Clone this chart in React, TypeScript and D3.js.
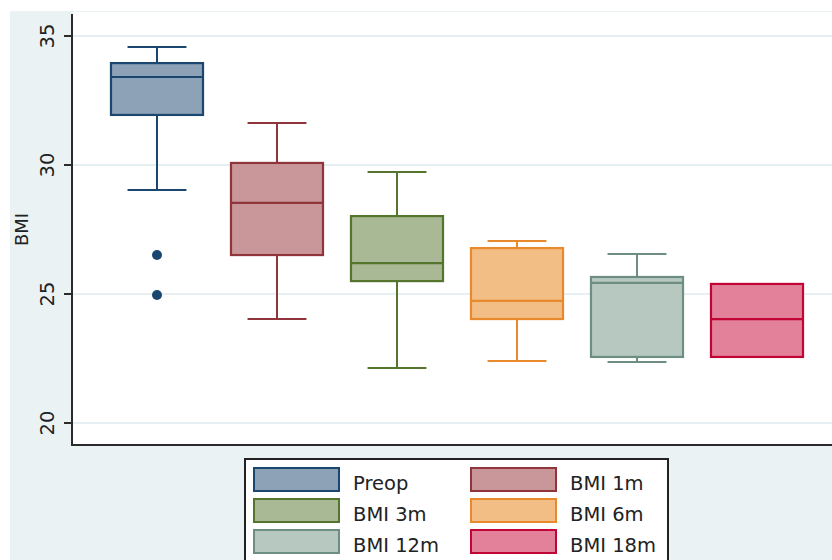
import { useEffect, useRef } from "react";
import * as d3 from "d3";

const groups = ["Preop", "BMI 1m", "BMI 3m", "BMI 6m", "BMI 12m", "BMI 18m"];
const lowWhisker = [29.03, 24.03, 22.13, 22.4, 22.36, 22.56];
const q1 = [31.94, 26.51, 25.5, 24.03, 22.56, 22.56];
const median = [33.41, 28.53, 26.2, 24.73, 25.43, 24.03];
const q3 = [33.95, 30.08, 28.02, 26.78, 25.66, 25.39];
const highWhisker = [34.57, 31.63, 29.73, 27.05, 26.55, 25.39];
const outliers = [
  { group: "Preop", value: 26.51 },
  { group: "Preop", value: 24.96 },
];
const yTicks = [20, 25, 30, 35];

const strokeColors = ["#1a476f", "#90353b", "#55752f", "#e8892c", "#6e8e84", "#c10534"];
const fillColors = ["#8da1b7", "#c9969a", "#a9b996", "#f3bd86", "#b7c8c1", "#e3819a"];

const App = () => {
  const svgRef = useRef<SVGSVGElement>(null);

  useEffect(() => {
    document.body.style.margin = "0";
    const svgEl = svgRef.current;
    if (!svgEl) return;
    const svg = d3.select(svgEl);
    svg.selectAll("*").remove();

    const font = "DejaVu Sans, sans-serif";
    const plot = { left: 73, top: 12, right: 832, bottom: 445 };

    const y = d3.scaleLinear().domain([20, 35]).range([423, 36]);
    const x = d3
      .scaleBand<string>()
      .domain(groups)
      .range([97, 817])
      .paddingInner(0.233)
      .paddingOuter(0.1165);

    // backgrounds
    svg.append("rect").attr("width", 832).attr("height", 560).attr("fill", "#ffffff");
    svg.append("rect").attr("x", 10).attr("y", 11).attr("width", 822).attr("height", 560).attr("fill", "#eaf2f3");
    svg
      .append("rect")
      .attr("x", plot.left)
      .attr("y", plot.top)
      .attr("width", plot.right - plot.left)
      .attr("height", plot.bottom - plot.top)
      .attr("fill", "#ffffff");

    // grid
    svg
      .append("g")
      .selectAll("line")
      .data(yTicks)
      .join("line")
      .attr("x1", plot.left)
      .attr("x2", plot.right)
      .attr("y1", (d) => y(d))
      .attr("y2", (d) => y(d))
      .attr("stroke", "#e6eff1")
      .attr("stroke-width", 1.8);

    // axes
    svg.append("line").attr("x1", 72).attr("x2", 72).attr("y1", 14).attr("y2", plot.bottom + 1)
      .attr("stroke", "#2b2b2b").attr("stroke-width", 2);
    svg.append("line").attr("x1", 71).attr("x2", plot.right).attr("y1", plot.bottom).attr("y2", plot.bottom)
      .attr("stroke", "#2b2b2b").attr("stroke-width", 2);

    const ticks = svg.append("g").selectAll("g").data(yTicks).join("g");
    ticks
      .append("line")
      .attr("x1", 64)
      .attr("x2", 72)
      .attr("y1", (d) => y(d))
      .attr("y2", (d) => y(d))
      .attr("stroke", "#2b2b2b")
      .attr("stroke-width", 2);
    ticks
      .append("text")
      .attr("transform", (d) => `translate(54,${y(d)}) rotate(-90)`)
      .attr("text-anchor", "middle")
      .attr("font-family", font)
      .attr("font-size", 19.5)
      .attr("fill", "#222")
      .text((d) => d);

    svg
      .append("text")
      .attr("transform", `translate(28,${(y(30) + y(25)) / 2}) rotate(-90)`)
      .attr("text-anchor", "middle")
      .attr("font-family", font)
      .attr("font-size", 18)
      .attr("fill", "#222")
      .text("BMI");

    // boxes
    const bw = x.bandwidth();
    const capW = bw * 0.64;
    const boxes = svg.append("g").selectAll("g").data(groups).join("g");
    boxes.each(function (g, i) {
      const sel = d3.select(this);
      const x0 = x(g)!;
      const cx = x0 + bw / 2;
      const stroke = strokeColors[i];
      if (highWhisker[i] > q3[i]) {
        sel.append("line").attr("x1", cx).attr("x2", cx).attr("y1", y(q3[i])).attr("y2", y(highWhisker[i]))
          .attr("stroke", stroke).attr("stroke-width", 2);
        sel.append("line").attr("x1", cx - capW / 2).attr("x2", cx + capW / 2)
          .attr("y1", y(highWhisker[i])).attr("y2", y(highWhisker[i]))
          .attr("stroke", stroke).attr("stroke-width", 2);
      }
      if (lowWhisker[i] < q1[i]) {
        sel.append("line").attr("x1", cx).attr("x2", cx).attr("y1", y(q1[i])).attr("y2", y(lowWhisker[i]))
          .attr("stroke", stroke).attr("stroke-width", 2);
        sel.append("line").attr("x1", cx - capW / 2).attr("x2", cx + capW / 2)
          .attr("y1", y(lowWhisker[i])).attr("y2", y(lowWhisker[i]))
          .attr("stroke", stroke).attr("stroke-width", 2);
      }
      sel
        .append("rect")
        .attr("x", x0)
        .attr("y", y(q3[i]))
        .attr("width", bw)
        .attr("height", y(q1[i]) - y(q3[i]))
        .attr("fill", fillColors[i])
        .attr("stroke", stroke)
        .attr("stroke-width", 2.2);
      sel.append("line").attr("x1", x0).attr("x2", x0 + bw).attr("y1", y(median[i])).attr("y2", y(median[i]))
        .attr("stroke", stroke).attr("stroke-width", 2.2);
    });

    // outliers
    svg
      .append("g")
      .selectAll("circle")
      .data(outliers)
      .join("circle")
      .attr("cx", (d) => x(d.group)! + bw / 2)
      .attr("cy", (d) => y(d.value))
      .attr("r", 5)
      .attr("fill", strokeColors[0]);

    // legend
    const legend = svg.append("g");
    legend.append("rect").attr("x", 245).attr("y", 459).attr("width", 423).attr("height", 120)
      .attr("fill", "#ffffff").attr("stroke", "#222").attr("stroke-width", 2);
    const items = legend.selectAll("g.item").data(groups).join("g").attr("class", "item")
      .attr("transform", (d, i) => `translate(${i % 2 === 0 ? 254 : 471},${468 + Math.floor(i / 2) * 31})`);
    items
      .append("rect")
      .attr("width", 85)
      .attr("height", 23)
      .attr("fill", (d, i) => fillColors[i])
      .attr("stroke", (d, i) => strokeColors[i])
      .attr("stroke-width", 2);
    items
      .append("text")
      .attr("x", 99)
      .attr("y", 22)
      .attr("font-family", font)
      .attr("font-size", 19.5)
      .attr("fill", "#222")
      .text((d) => d);
  }, []);

  return <svg ref={svgRef} width={832} height={560} style={{ display: "block" }}></svg>;
};

export default App;
